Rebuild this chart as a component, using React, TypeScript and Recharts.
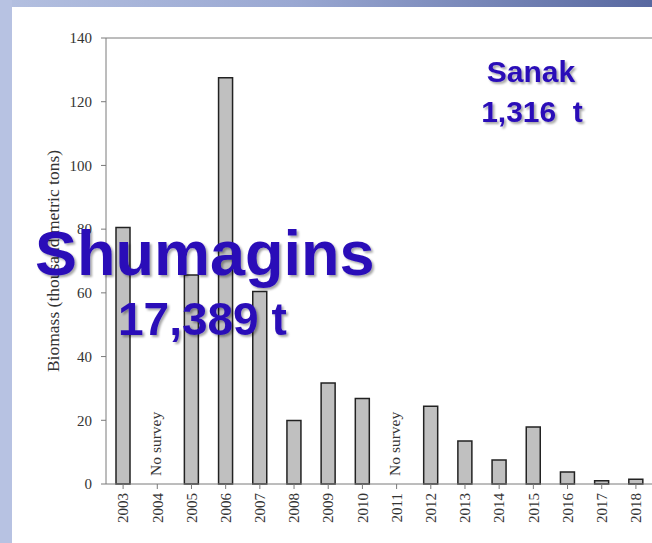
import React from 'react';
import { BarChart, Bar, XAxis, YAxis, ReferenceLine, ReferenceDot } from 'recharts';

// survey years and biomass (thousand metric tons), null = no survey
const years = ['2003', '2004', '2005', '2006', '2007', '2008', '2009', '2010', '2011', '2012', '2013', '2014', '2015', '2016', '2017', '2018'];
const biomass = [80.5, null, 65.6, 127.5, 60.4, 19.9, 31.7, 26.8, null, 24.4, 13.5, 7.5, 17.9, 3.8, 1.0, 1.5];
const yTicks = [0, 20, 40, 60, 80, 100, 120, 140];
const noSurveyYears = ['2004', '2011'];
const noSurveyText = 'No survey';
const yLabel = 'Biomass (thousand metric tons)';

const data = years.map((year, i) => ({ year, biomass: biomass[i] }));

const serif = '"Liberation Serif", "Times New Roman", serif';
const sans = '"Liberation Sans", Arial, sans-serif';
const textBlue = '#2b10b8';

const XTick = (props: any) => {
  const { x, y, payload } = props;
  return (
    <text x={x} y={y} transform={`rotate(-90, ${x}, ${y})`} textAnchor="end" dy="0.35em"
      fontFamily={serif} fontSize={15} fill="#333">
      {payload.value}
    </text>
  );
};

const NoSurveyLabel = (props: any) => {
  const { viewBox } = props;
  const cx = viewBox.x + viewBox.width / 2 - 2;
  const cy = viewBox.y + viewBox.height / 2;
  return (
    <text x={cx} y={cy} transform={`rotate(-90, ${cx}, ${cy})`} textAnchor="middle" dy="0.35em"
      fontFamily={serif} fontSize={15.5} fill="#333">
      {noSurveyText}
    </text>
  );
};

const App: React.FC = () => {
  return (
    <div style={{ position: 'absolute', left: 0, top: 0, width: 652, height: 543, overflow: 'hidden', background: '#fff' }}>
      <div style={{ position: 'absolute', left: 0, top: 0 }}>
        <BarChart width={653} height={543} data={data} margin={{ top: 38, right: 0, left: 0, bottom: 0 }}>
          <XAxis
            dataKey="year"
            height={59}
            interval={0}
            tick={<XTick />}
            tickSize={5}
            tickMargin={4}
            stroke="#7a7a7a"
          />
          <YAxis
            width={106}
            domain={[0, 140]}
            ticks={yTicks}
            tickSize={5}
            tickMargin={9}
            stroke="#7a7a7a"
            tick={{ fontFamily: serif, fontSize: 15, fill: '#333' }}
            label={{
              value: yLabel,
              angle: -90,
              position: 'insideLeft',
              offset: 0,
              dx: 53,
              dy: 0,
              style: { fontFamily: serif, fontSize: 17.5, fill: '#333', textAnchor: 'middle' },
            }}
          />
          <ReferenceLine y={140} stroke="#7a7a7a" />
          {noSurveyYears.map((yr) => (
            <ReferenceDot key={yr} x={yr} y={12.6} r={0} stroke="none" fill="none" label={<NoSurveyLabel />} />
          ))}
          <Bar dataKey="biomass" barSize={14} fill="#c0c0c0" stroke="#222" strokeWidth={1.5} isAnimationActive={false} />
        </BarChart>
      </div>
      {/* slide background strips */}
      <div style={{ position: 'absolute', left: 0, top: 0, width: 652, height: 7, background: 'linear-gradient(to right, #b4c0e0, #9aa8d2 45%, #5868a0)' }} />
      <div style={{ position: 'absolute', left: 0, top: 0, width: 12, height: 543, background: '#b7c2e2' }} />
      <svg width={652} height={543} style={{ position: 'absolute', left: 0, top: 0, pointerEvents: 'none' }}>
        <defs>
          <filter id="shadow" x="-10%" y="-10%" width="120%" height="130%">
            <feDropShadow dx="2" dy="2" stdDeviation="1.2" floodColor="#000" floodOpacity="0.35" />
          </filter>
        </defs>
        <g filter="url(#shadow)" fontFamily={sans} fontWeight="bold" fill={textBlue}>
          <text x={35} y={275} fontSize={63}>Shumagins</text>
          <text x={118} y={335} fontSize={46}>17,389 t</text>
          <text x={531} y={82} fontSize={30} textAnchor="middle">Sanak</text>
          <text x={532} y={122} fontSize={30} textAnchor="middle" style={{ whiteSpace: 'pre' }}>{'1,316  t'}</text>
        </g>
      </svg>
    </div>
  );
};

export default App;
